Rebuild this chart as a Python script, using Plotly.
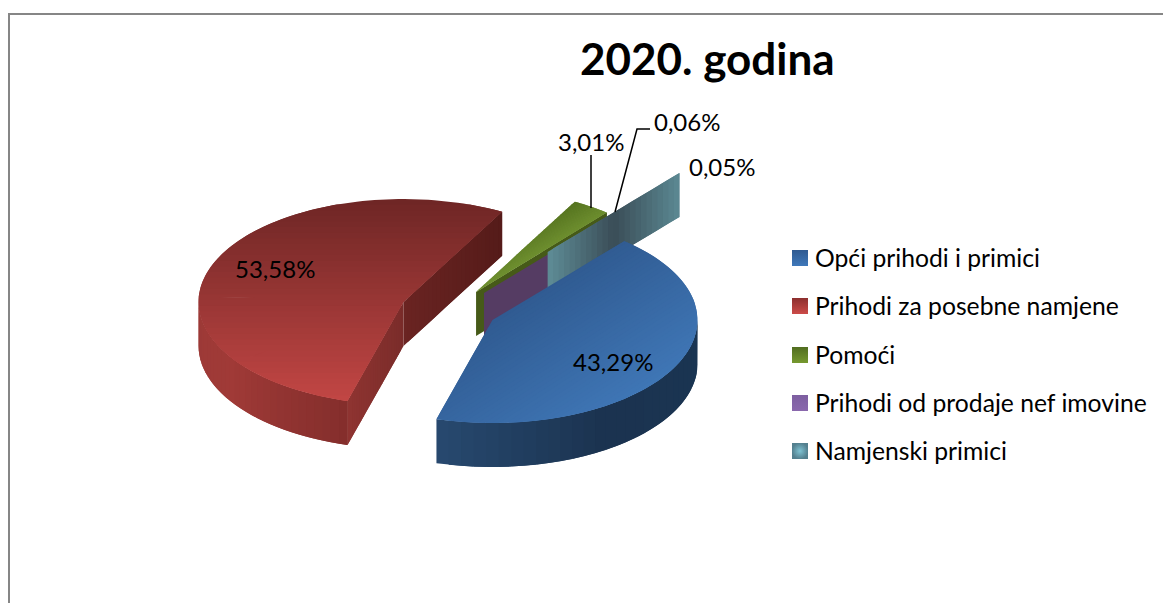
import numpy as np
import plotly.graph_objects as go

# --------------------------------------------------
# Data
# --------------------------------------------------

categories = [
    "Opći prihodi i primici",
    "Prihodi za posebne namjene",
    "Pomoći",
    "Prihodi od prodaje nef imovine",
    "Namjenski primici",
]
shares = [43.29, 53.58, 3.01, 0.06, 0.05]
title_text = "2020. godina"

# --------------------------------------------------
# Look of the pie (pixels of the 1163x603 page)
# --------------------------------------------------

W, H = 1163, 603
CENTER = (449, 308)
RX, RY = 205, 103
DEPTH = 44
START = 50.0
PULL_X = [0.24, 0.24, 0.235, 0.267, 0.75]
PULL_Y = [0.25, 0.154, 0.188, 0.19, 0.71]

TOP_GRAD = [
    ((0.55, 0.85), "#305b91", "#3f76b6"),
    ((0, 1), "#6e2625", "#c24644"),
    ((0.5, 0.85), "#55731f", "#6f9030"),
    ((0, 1), "#5c4570", "#5c4570"),
    ((0, 1), "#5f8d97", "#5f8d97"),
]
LEGEND_GRAD = [
    ("vertical", "#2f5a91", "#3f78ba"),
    ("vertical", "#8c2f2e", "#cc4b48"),
    ("vertical", "#516d20", "#76992f"),
    ("vertical", "#7d5fa0", "#8a68ad"),
    ("radial", "#54808f", "#7fc3d3"),
]
LEGEND_X = 800
LEGEND_Y = [258, 306, 355, 403, 451]
LABEL_POS = [(613, 361), (275, 268), (591, 141), (687, 121), (722, 166)]
FONT = "Lato"

fig = go.Figure()


def mix(c0, c1, t):
    a = np.array([int(c0[i:i + 2], 16) for i in (1, 3, 5)])
    b = np.array([int(c1[i:i + 2], 16) for i in (1, 3, 5)])
    r = a + (b - a) * t
    return "rgb(%d,%d,%d)" % tuple(r.round())


def ramp(stops, t):
    # stops: list of (position, colour)
    for (t0, c0), (t1, c1) in zip(stops[:-1], stops[1:]):
        if t <= t1:
            return mix(c0, c1, (t - t0) / (t1 - t0))
    return stops[-1][1]


def poly(xs, ys, color):
    fig.add_trace(
        go.Scatter(
            x=xs,
            y=ys,
            mode="lines",
            fill="toself",
            fillcolor=color,
            line=dict(width=0),
            hoverinfo="skip",
            showlegend=False,
        )
    )


def clip(pts, n, t, keep_above):
    # half plane clip of a convex polygon
    out = []
    for p, q in zip(pts, pts[1:] + pts[:1]):
        dp = p[0] * n[0] + p[1] * n[1] - t
        dq = q[0] * n[0] + q[1] * n[1] - t
        if not keep_above:
            dp, dq = -dp, -dq
        if dp >= 0:
            out.append(p)
        if dp * dq < 0:
            k = dp / (dp - dq)
            out.append((p[0] + (q[0] - p[0]) * k, p[1] + (q[1] - p[1]) * k))
    return out


def arc_point(apex, deg):
    a = np.radians(deg)
    return apex[0] + RX * np.cos(a), apex[1] - RY * np.sin(a)


def top_face(apex, a0, a1, direction, c0, c1, bands=36):
    # a0 > a1, split in convex sectors, then cut in colour bands.
    # every band runs on under the next one so no seams show
    n = np.array(direction, dtype=float)
    n = n / np.hypot(*n)
    cuts = np.linspace(a0, a1, int(abs(a0 - a1) // 40) + 2)
    sectors = []
    for s0, s1 in zip(cuts[:-1], cuts[1:]):
        arc = [arc_point(apex, d) for d in np.linspace(s0, s1, 24)]
        sectors.append([apex] + arc)
    proj = [p[0] * n[0] + p[1] * n[1] for s in sectors for p in s]
    lo, hi = min(proj), max(proj)
    edges = np.linspace(lo, hi, bands + 1)
    for i in range(bands):
        upper = edges[min(i + 2, bands)]
        xs, ys = [], []
        for s in sectors:
            part = clip(s, n, edges[i], True)
            part = clip(part, n, upper, False) if part else part
            if len(part) > 2:
                xs += [p[0] for p in part] + [part[0][0], None]
                ys += [p[1] for p in part] + [part[0][1], None]
        if xs:
            poly(xs, ys, mix(c0, c1, (i + 0.5) / bands))


def outer_wall(apex, a0, a1, stops, steps=30):
    d = np.linspace(a0, a1, steps + 1)
    for i in range(steps):
        p = arc_point(apex, d[i])
        arc = [arc_point(apex, v) for v in np.linspace(d[i], d[min(i + 2, steps)], 5)]
        xs = [c[0] for c in arc]
        ys = [c[1] for c in arc]
        poly(
            xs + xs[::-1] + [p[0]],
            ys + [v + DEPTH for v in ys[::-1]] + [p[1]],
            ramp(stops, (i + 0.5) / steps),
        )


def radial_wall(apex, deg, stops, steps=24):
    end = arc_point(apex, deg)
    for i in range(steps):
        k0, k1 = i / steps, min(i + 2, steps) / steps
        x0 = apex[0] + (end[0] - apex[0]) * k0
        x1 = apex[0] + (end[0] - apex[0]) * k1
        y0 = apex[1] + (end[1] - apex[1]) * k0
        y1 = apex[1] + (end[1] - apex[1]) * k1
        poly(
            [x0, x1, x1, x0, x0],
            [y0, y1, y1 + DEPTH, y0 + DEPTH, y0],
            ramp(stops, (i + 0.5) / steps),
        )


# --------------------------------------------------
# Slice angles and exploded apexes, from the shares
# --------------------------------------------------

sweep = 360 * np.array(shares) / sum(shares)
ends = START - np.cumsum(sweep)
starts = ends + sweep
mids = np.radians((starts + ends) / 2)
apexes = [
    (CENTER[0] + px * RX * np.cos(m), CENTER[1] - py * RY * np.sin(m))
    for px, py, m in zip(PULL_X, PULL_Y, mids)
]

# --------------------------------------------------
# Red slice
# --------------------------------------------------

radial_wall(apexes[1], ends[1], [(0, "#6a2422"), (1, "#551b19")])
radial_wall(apexes[1], starts[1], [(0, "#7a2c2a"), (1, "#8f3431")])
outer_wall(apexes[1], -180, starts[1], [(0, "#9c3a37"), (0.45, "#a03a37"), (1, "#842e2c")])
top_face(apexes[1], starts[1], ends[1], TOP_GRAD[1][0], TOP_GRAD[1][1], TOP_GRAD[1][2])

# --------------------------------------------------
# Thin slices at the back
# --------------------------------------------------

radial_wall(apexes[2], ends[2], [(0, "#465a18"), (1, "#465a18")], steps=2)
top_face(apexes[2], starts[2], ends[2], TOP_GRAD[2][0], TOP_GRAD[2][1], TOP_GRAD[2][2])

radial_wall(apexes[3], ends[3], [(0, "#553c63"), (1, "#553c63")], steps=2)
top_face(apexes[3], starts[3], ends[3], TOP_GRAD[3][0], TOP_GRAD[3][1], TOP_GRAD[3][2], bands=1)

radial_wall(
    apexes[4],
    ends[4],
    [(0, "#5f8d97"), (0.5, "#3a4d57"), (1, "#5b8892")],
)
top_face(apexes[4], starts[4], ends[4], TOP_GRAD[4][0], TOP_GRAD[4][1], TOP_GRAD[4][2], bands=1)

# --------------------------------------------------
# Blue slice
# --------------------------------------------------

outer_wall(
    apexes[0],
    ends[0],
    0,
    [(0, "#27496f"), (0.45, "#1b3350"), (1, "#1a3552")],
)
top_face(apexes[0], starts[0], ends[0], TOP_GRAD[0][0], TOP_GRAD[0][1], TOP_GRAD[0][2])

# --------------------------------------------------
# Leader lines
# --------------------------------------------------

for xs, ys in [([591, 591], [208, 155]), ([615, 637, 650], [212, 129, 129])]:
    fig.add_trace(
        go.Scatter(
            x=xs,
            y=ys,
            mode="lines",
            line=dict(color="black", width=1.5),
            hoverinfo="skip",
            showlegend=False,
        )
    )

# --------------------------------------------------
# Legend, laid out by hand for its tight swatch gap
# --------------------------------------------------

for name, ly, (kind, c0, c1) in zip(categories, LEGEND_Y, LEGEND_GRAD):
    fig.add_trace(
        go.Scatter(
            x=[LEGEND_X],
            y=[ly],
            mode="markers",
            name=name,
            showlegend=False,
            marker=dict(
                symbol="square",
                size=16,
                color=c0,
                gradient=dict(type=kind, color=c1),
            ),
        )
    )
    fig.add_annotation(
        x=LEGEND_X + 13,
        y=ly - 1,
        text=name,
        xanchor="left",
        showarrow=False,
        font=dict(family=FONT, size=24.7, color="black"),
    )

# --------------------------------------------------
# Value labels
# --------------------------------------------------

for share, (lx, ly) in zip(shares, LABEL_POS):
    fig.add_annotation(
        x=lx,
        y=ly,
        text=f"{share:.2f}%".replace(".", ","),
        showarrow=False,
        font=dict(family=FONT, size=24, color="black"),
    )

fig.add_annotation(
    x=707,
    y=58,
    text=f"<b>{title_text}</b>",
    showarrow=False,
    font=dict(family=FONT, size=44, color="black"),
)

# --------------------------------------------------
# Frame
# --------------------------------------------------

fig.add_shape(
    type="path",
    path=f"M 9 {H} L 9 14 L {W} 14",
    line=dict(color="#868686", width=2),
)

fig.update_layout(
    width=W,
    height=H,
    margin=dict(l=0, r=0, t=0, b=0),
    paper_bgcolor="white",
    plot_bgcolor="white",
    showlegend=False,
    xaxis=dict(range=[0, W], visible=False),
    yaxis=dict(range=[H, 0], visible=False),
)

# the page body has a default margin that would push the chart off
fig.write_html(
    "out.html",
    config=dict(displayModeBar=False),
    post_script="document.body.style.margin='0';",
)
